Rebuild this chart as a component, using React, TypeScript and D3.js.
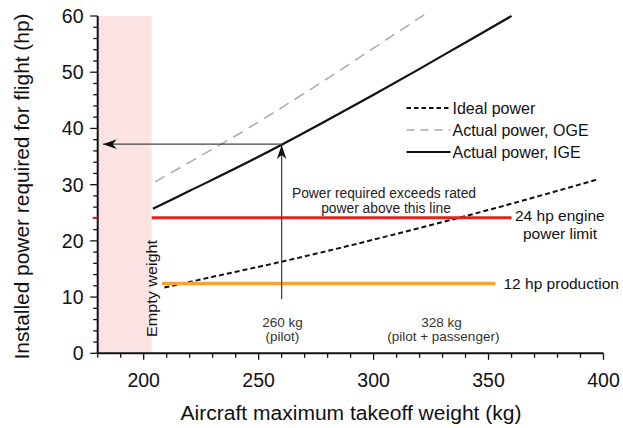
import React from "react";
import * as d3 from "d3";

// ---- data ----
const xTicks = [200, 250, 300, 350, 400];
const yTicks = [0, 10, 20, 30, 40, 50, 60];

const igeW = [204, 220, 240, 260, 280, 300, 320, 340, 360];
const igeP = [25.7, 28.9, 32.9, 37.1, 41.5, 46.0, 50.6, 55.3, 60.0];

const ogeW = [205, 220, 240, 260, 280, 300, 322];
const ogeP = [30.5, 34.0, 38.7, 43.7, 48.9, 54.3, 60.2];

const idealW = [209, 230, 260, 290, 320, 350, 380, 398];
const idealP = [11.7, 13.6, 16.3, 19.2, 22.3, 25.5, 28.9, 31.0];

const emptyBand = [180, 203.5];
const limitValues = [24.1, 12.4];
const limitFrom = [203.5, 208];
const limitTo = [360, 353];
const pilotW = 260;
const pilotP = 37.2;
const arrowBase = 9.6;
const arrowLeft = 182.3;

const legendLabels = ["Ideal power", "Actual power, OGE", "Actual power, IGE"];

const W = 623;
const H = 428;
const FONT = "'Liberation Sans', Arial, Helvetica, sans-serif";

export default function App() {
  const x = d3.scaleLinear().domain([180, 400]).range([97.7, 603.5]);
  const y = d3.scaleLinear().domain([0, 60]).range([353.3, 16]);

  const line = d3
    .line<[number, number]>()
    .x((d) => x(d[0]))
    .y((d) => y(d[1]))
    .curve(d3.curveMonotoneX);

  const ige = line(igeW.map((w, i) => [w, igeP[i]]));
  const oge = line(ogeW.map((w, i) => [w, ogeP[i]]));
  const ideal = line(idealW.map((w, i) => [w, idealP[i]]));

  const xMinor = d3.range(180, 401, 10);
  const yMinor = d3.range(0, 61, 2);

  const legendY = [108, 130, 152];
  const legendStyles = [
    { stroke: "#111", dash: "4.5,3", w: 1.8 },
    { stroke: "#aaa", dash: "8,6", w: 1.5 },
    { stroke: "#111", dash: "none", w: 2.2 },
  ];

  return (
    <svg
      width={W}
      height={H}
      style={{ position: "absolute", left: 0, top: 0, background: "#fff" }}
      fontFamily={FONT}
    >
      <defs>
        <marker
          id="ah"
          markerUnits="userSpaceOnUse"
          markerWidth={16}
          markerHeight={12}
          refX={12}
          refY={5}
          orient="auto"
          viewBox="0 0 14 10"
        >
          <path d="M12,5 L0,0.8 L3.5,5 L0,9.2 Z" fill="#111" />
        </marker>
      </defs>

      {/* empty weight band */}
      <rect
        x={x(emptyBand[0])}
        y={y(60)}
        width={x(emptyBand[1]) - x(emptyBand[0])}
        height={y(0) - y(60)}
        fill="#fce3e3"
      />

      {/* lines */}
      <path d={oge ?? ""} fill="none" stroke="#aaa" strokeWidth={1.5} strokeDasharray="11,7" />
      <path d={ideal ?? ""} fill="none" stroke="#111" strokeWidth={2} strokeDasharray="5,3" />

      {/* limit lines */}
      <line
        x1={x(limitFrom[0])}
        x2={x(limitTo[0])}
        y1={y(limitValues[0])}
        y2={y(limitValues[0])}
        stroke="#e2231f"
        strokeWidth={3}
      />
      <line
        x1={x(limitFrom[1])}
        x2={x(limitTo[1])}
        y1={y(limitValues[1])}
        y2={y(limitValues[1])}
        stroke="#f7a234"
        strokeWidth={3.5}
      />

      <path d={ige ?? ""} fill="none" stroke="#111" strokeWidth={2.2} />

      {/* arrows */}
      <line
        x1={x(pilotW)}
        x2={x(pilotW)}
        y1={y(arrowBase)}
        y2={y(pilotP) + 1}
        stroke="#444"
        strokeWidth={1.3}
        markerEnd="url(#ah)"
      />
      <line
        x1={x(pilotW)}
        x2={x(arrowLeft)}
        y1={y(pilotP)}
        y2={y(pilotP)}
        stroke="#444"
        strokeWidth={1.3}
        markerEnd="url(#ah)"
      />

      {/* axes */}
      <line x1={x(180)} x2={x(400)} y1={y(0)} y2={y(0)} stroke="#111" strokeWidth={2} />
      <line x1={x(180)} x2={x(180)} y1={y(0)} y2={y(60)} stroke="#111" strokeWidth={2} />
      {xMinor.map((v) => (
        <line
          key={"xm" + v}
          x1={x(v)}
          x2={x(v)}
          y1={y(0)}
          y2={y(0) + (v % 50 === 0 ? 6.5 : 4.5)}
          stroke="#111"
          strokeWidth={1.3}
        />
      ))}
      {yMinor.map((v) => (
        <line
          key={"ym" + v}
          x1={x(180)}
          x2={x(180) - (v % 10 === 0 ? 7.5 : 4.5)}
          y1={y(v)}
          y2={y(v)}
          stroke="#111"
          strokeWidth={1.3}
        />
      ))}
      <line
        x1={x(180) - 5}
        x2={x(180)}
        y1={y(limitValues[0])}
        y2={y(limitValues[0])}
        stroke="#e2231f"
        strokeWidth={2}
      />
      {xTicks.map((v) => (
        <text key={"xt" + v} x={x(v)} y={387} textAnchor="middle" fontSize={19.5} fill="#111">
          {v}
        </text>
      ))}
      {yTicks.map((v) => (
        <text key={"yt" + v} x={83.5} y={y(v)} dy="0.36em" textAnchor="end" fontSize={19.5} fill="#111">
          {v}
        </text>
      ))}

      {/* axis titles */}
      <text
        x={351}
        y={420}
        textAnchor="middle"
        fontSize={20}
        fill="#111"
        textLength={341}
        lengthAdjust="spacingAndGlyphs"
      >
        Aircraft maximum takeoff weight (kg)
      </text>
      <text
        transform={`translate(28.5,186.5) rotate(-90)`}
        textAnchor="middle"
        fontSize={20}
        fill="#111"
        textLength={346}
        lengthAdjust="spacingAndGlyphs"
      >
        Installed power required for flight (hp)
      </text>

      {/* legend */}
      {legendLabels.map((lab, i) => (
        <g key={lab}>
          <line
            x1={406.5}
            x2={450.5}
            y1={legendY[i]}
            y2={legendY[i]}
            stroke={legendStyles[i].stroke}
            strokeWidth={legendStyles[i].w}
            strokeDasharray={legendStyles[i].dash}
          />
          <text x={452.5} y={legendY[i]} dy="0.36em" fontSize={16} fill="#111">
            {lab}
          </text>
        </g>
      ))}

      {/* annotations */}
      <text
        transform={`translate(156.5,337) rotate(-90)`}
        fontSize={14}
        fill="#111"
        textLength={97}
        lengthAdjust="spacingAndGlyphs"
      >
        Empty weight
      </text>
      <text x={282.5} y={326.5} textAnchor="middle" fontSize={13.5} fill="#333">
        260 kg
      </text>
      <text x={282.5} y={341} textAnchor="middle" fontSize={13.5} fill="#333">
        (pilot)
      </text>
      <text x={441.5} y={326.5} textAnchor="middle" fontSize={13.5} fill="#333">
        328 kg
      </text>
      <text x={443.3} y={341} textAnchor="middle" fontSize={13.5} fill="#333">
        (pilot + passenger)
      </text>
      <text x={384} y={197.5} textAnchor="middle" fontSize={13.8} fill="#222">
        Power required exceeds rated
      </text>
      <text x={386} y={213} textAnchor="middle" fontSize={13.8} fill="#222">
        power above this line
      </text>
      <text x={515} y={220.5} fontSize={15.5} fill="#111">
        24 hp engine
      </text>
      <text x={560} y={239} textAnchor="middle" fontSize={15.5} fill="#111">
        power limit
      </text>
      <text x={503.5} y={288.5} fontSize={15.5} fill="#111">
        12 hp production
      </text>
    </svg>
  );
}
